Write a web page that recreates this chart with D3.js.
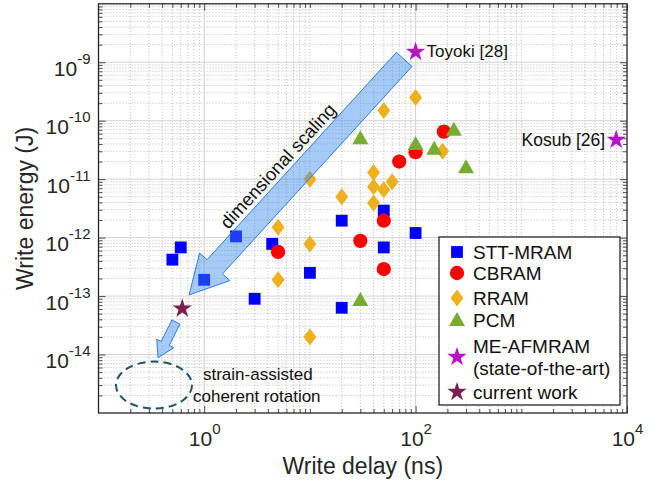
<!DOCTYPE html>
<html>
<head>
<meta charset="utf-8">
<script src="https://cdn.jsdelivr.net/npm/d3@7"></script>
<style>
  body { margin: 0; background: #fff; }
  svg text { font-family: "Liberation Sans", Arial, Helvetica, sans-serif; }
</style>
</head>
<body>
<div id="chart"></div>
<script>
// Data: [write delay (ns), write energy (J)]
const sttMram = [[0.5, 4.2e-13], [0.6, 6.8e-13], [1.0, 1.9e-13], [2.0, 1.05e-12], [4.4, 7.8e-13],
  [3.0, 9e-14], [10, 2.5e-13], [20, 1.95e-12], [20, 6.3e-14], [50, 2.9e-12], [50, 6.8e-13], [100, 1.2e-12]];
const cbram = [[5, 5.7e-13], [30, 8.8e-13], [50, 1.95e-12], [50, 2.9e-13], [70, 2e-11], [100, 2.9e-11], [185, 6.5e-11]];
const rram = [[5, 1.5e-12], [5, 1.9e-13], [10, 1e-11], [10, 7.8e-13], [10, 2e-14], [20, 5e-12],
  [40, 1.3e-11], [40, 7.4e-12], [40, 3.9e-12], [50, 6.6e-12], [60, 9e-12], [50, 1.5e-10], [100, 2.5e-10], [180, 3e-11]];
const pcm = [[30, 5e-11], [30, 8.6e-14], [100, 4e-11], [150, 3.3e-11], [230, 7e-11], [300, 1.6e-11]];
const meAfmram = [[100, 1.5e-9], [7900, 4.7e-11]];
const meLabels = ["Toyoki [28]", "Kosub [26]"];
const currentWork = [[0.62, 6.1e-14]];

const legendNames = ["STT-MRAM", "CBRAM", "RRAM", "PCM", "ME-AFMRAM", "current work"];

// axis ticks
const xMajor = [1, 100, 10000];
const yMajor = [1e-14, 1e-13, 1e-12, 1e-11, 1e-10, 1e-9];
const xDomain = [0.1, 1e4];
const yDomain = [1e-15, 1e-8];

// annotation anchors (data space)
const bigArrow = [[78, 1.12e-9], [0.72, 1.05e-13]];
const smallArrow = [[0.54, 3.6e-14], [0.366, 8.8e-15]];
const ellipseCenter = [0.335, 3e-15];

const width = 668, height = 485;
const plot = { left: 98.5, right: 627, top: 3.8, bottom: 413 };

const svg = d3.select("#chart").append("svg")
    .attr("width", width)
    .attr("height", height);

const x = d3.scaleLog().domain(xDomain).range([plot.left, plot.right]);
const y = d3.scaleLog().domain(yDomain).range([plot.bottom, plot.top]);

// minor values
function minors(lo, hi, majors) {
    const out = [];
    for (let e = lo; e < hi; e++) {
        for (let m = 1; m < 10; m++) {
            const v = m * Math.pow(10, e);
            if (e === lo && m === 1) continue;
            if (majors.some(d => Math.abs(d - v) / v < 1e-6)) continue;
            out.push(v);
        }
    }
    return out;
}
const xMinor = minors(-1, 4, xMajor);
const yMinor = minors(-15, -8, yMajor);

// Grid
const grid = svg.append("g");
grid.selectAll(".xminor").data(xMinor).enter().append("line")
    .attr("x1", d => x(d)).attr("x2", d => x(d))
    .attr("y1", plot.top).attr("y2", plot.bottom)
    .attr("stroke", "#a9a9a9").attr("stroke-width", 0.8).attr("stroke-dasharray", "1,2");
grid.selectAll(".yminor").data(yMinor).enter().append("line")
    .attr("y1", d => y(d)).attr("y2", d => y(d))
    .attr("x1", plot.left).attr("x2", plot.right)
    .attr("stroke", "#a9a9a9").attr("stroke-width", 0.8).attr("stroke-dasharray", "1,2");
grid.selectAll(".xmajor").data(xMajor.slice(0, 2)).enter().append("line")
    .attr("x1", d => x(d)).attr("x2", d => x(d))
    .attr("y1", plot.top).attr("y2", plot.bottom)
    .attr("stroke", "#d3d3d3").attr("stroke-width", 1);
grid.selectAll(".ymajor").data(yMajor).enter().append("line")
    .attr("y1", d => y(d)).attr("y2", d => y(d))
    .attr("x1", plot.left).attr("x2", plot.right)
    .attr("stroke", "#d3d3d3").attr("stroke-width", 1);

// Axes (ticks inward, on all four sides)
function tickAxis(axis, transform, values, size) {
    const g = svg.append("g").attr("transform", transform)
        .call(axis.tickValues(values).tickSize(size).tickFormat(""));
    g.select(".domain").remove();
    g.selectAll(".tick line").attr("stroke", "#262626").attr("stroke-width", 0.8);
    return g;
}
tickAxis(d3.axisBottom(x), `translate(0,${plot.bottom})`, xMinor, -4);
tickAxis(d3.axisTop(x), `translate(0,${plot.top})`, xMinor, -4);
tickAxis(d3.axisLeft(y), `translate(${plot.left},0)`, yMinor, -4);
tickAxis(d3.axisRight(y), `translate(${plot.right},0)`, yMinor, -4);
const xAxis = tickAxis(d3.axisBottom(x), `translate(0,${plot.bottom})`, xMajor, -7);
tickAxis(d3.axisTop(x), `translate(0,${plot.top})`, xMajor, -7);
const yAxis = tickAxis(d3.axisLeft(y), `translate(${plot.left},0)`, yMajor, -7);
tickAxis(d3.axisRight(y), `translate(${plot.right},0)`, yMajor, -7);

// power-of-ten labels
xAxis.selectAll(".tick text").each(function(d) {
    const t = d3.select(this).attr("y", 33).attr("dy", null)
        .attr("fill", "#262626").attr("font-size", 21).attr("text-anchor", "middle");
    t.append("tspan").text("10");
    t.append("tspan").attr("dy", -12).attr("font-size", 15).text(Math.round(Math.log10(d)));
});
yAxis.selectAll(".tick text").each(function(d) {
    const t = d3.select(this).attr("x", -8).attr("dy", 13)
        .attr("fill", "#262626").attr("font-size", 21).attr("text-anchor", "end");
    t.append("tspan").text("10");
    t.append("tspan").attr("dy", -12).attr("font-size", 15).text("-" + Math.abs(Math.round(Math.log10(d))));
});

svg.append("rect")
    .attr("x", plot.left).attr("y", plot.top)
    .attr("width", plot.right - plot.left).attr("height", plot.bottom - plot.top)
    .attr("fill", "none").attr("stroke", "#262626").attr("stroke-width", 1.3);

// Axis labels
svg.append("text")
    .attr("x", (plot.left + plot.right) / 2).attr("y", 474)
    .attr("text-anchor", "middle").attr("font-size", 23).attr("fill", "#262626")
    .text("Write delay (ns)");
svg.append("text")
    .attr("transform", `translate(33,${(plot.top + plot.bottom) / 2}) rotate(-90)`)
    .attr("text-anchor", "middle").attr("font-size", 23).attr("fill", "#262626")
    .text("Write energy (J)");

// Marker shapes
const sq = d3.symbol().type(d3.symbolSquare).size(140)();
const circ = d3.symbol().type(d3.symbolCircle).size(160)();
const diam = "M0,-8.5L6.5,0L0,8.5L-6.5,0Z";
const tri = "M0,-8L8,6L-8,6Z";
const star = d3.symbol().type(d3.symbolStar).size(115)();

const series = [
    { data: sttMram, path: sq, color: "#0000ff" },
    { data: cbram, path: circ, color: "#ff0000" },
    { data: rram, path: diam, color: "#edb120" },
    { data: pcm, path: tri, color: "#77ac30" },
    { data: meAfmram, path: star, color: "#bb11c6" },
    { data: currentWork, path: star, color: "#7a1f4e" }
];

series.forEach(s => {
    svg.append("g").selectAll("path").data(s.data).enter().append("path")
        .attr("d", s.path)
        .attr("transform", d => `translate(${x(d[0])},${y(d[1])})`)
        .attr("fill", s.color);
});

// Labels for state-of-the-art points
svg.append("text")
    .attr("x", x(meAfmram[0][0]) + 11).attr("y", y(meAfmram[0][1]) + 5)
    .attr("font-size", 17).attr("fill", "#111").text(meLabels[0]);
svg.append("text")
    .attr("x", x(meAfmram[1][0]) - 11).attr("y", y(meAfmram[1][1]) + 6)
    .attr("text-anchor", "end").attr("font-size", 17.5).attr("fill", "#111").text(meLabels[1]);

// Arrows
function arrowPath(p0, p1, shaftW, headW, headL) {
    const dx = p1[0] - p0[0], dy = p1[1] - p0[1];
    const len = Math.hypot(dx, dy);
    const ux = dx / len, uy = dy / len;
    const nx = -uy, ny = ux;
    const bx = p1[0] - ux * headL, by = p1[1] - uy * headL;
    const pts = [
        [p0[0] + nx * shaftW / 2, p0[1] + ny * shaftW / 2],
        [bx + nx * shaftW / 2, by + ny * shaftW / 2],
        [bx + nx * headW / 2, by + ny * headW / 2],
        p1,
        [bx - nx * headW / 2, by - ny * headW / 2],
        [bx - nx * shaftW / 2, by - ny * shaftW / 2],
        [p0[0] - nx * shaftW / 2, p0[1] - ny * shaftW / 2]
    ];
    return "M" + pts.map(p => p.join(",")).join("L") + "Z";
}
const toPx = d => [x(d[0]), y(d[1])];
const a0 = toPx(bigArrow[0]), a1 = toPx(bigArrow[1]);
svg.append("path")
    .attr("d", arrowPath(a0, a1, 21, 41, 38))
    .attr("fill", "rgb(60,140,240)").attr("fill-opacity", 0.45)
    .attr("stroke", "#2b7de9").attr("stroke-width", 1);
const s0 = toPx(smallArrow[0]), s1 = toPx(smallArrow[1]);
svg.append("path")
    .attr("d", arrowPath(s0, s1, 9, 19, 16))
    .attr("fill", "rgb(60,140,240)").attr("fill-opacity", 0.45)
    .attr("stroke", "#2b7de9").attr("stroke-width", 1);

// "dimensional scaling" along the big arrow
const ang = Math.atan2(a0[1] - a1[1], a0[0] - a1[0]) * 180 / Math.PI;
const len = Math.hypot(a0[0] - a1[0], a0[1] - a1[1]);
const ux = (a0[0] - a1[0]) / len, uy = (a0[1] - a1[1]) / len;
const tx = a1[0] + ux * 155 + uy * 15, ty = a1[1] + uy * 155 - ux * 15;
svg.append("text")
    .attr("transform", `translate(${tx},${ty}) rotate(${ang})`)
    .attr("text-anchor", "middle").attr("font-size", 18.5).attr("fill", "#111")
    .text("dimensional scaling");

// dashed ellipse + text
const ec = toPx(ellipseCenter);
svg.append("ellipse")
    .attr("cx", ec[0]).attr("cy", ec[1]).attr("rx", 38).attr("ry", 23.5)
    .attr("fill", "none").attr("stroke", "#1d5763").attr("stroke-width", 2)
    .attr("stroke-dasharray", "8,5");
svg.append("text").attr("x", ec[0] + 49).attr("y", ec[1] - 5)
    .attr("font-size", 17).attr("fill", "#111").text("strain-assisted");
svg.append("text").attr("x", ec[0] + 39).attr("y", ec[1] + 17)
    .attr("font-size", 17).attr("fill", "#111").text("coherent rotation");

// Legend
const legend = svg.append("g").attr("transform", "translate(439,237)");
legend.append("rect").attr("width", 181).attr("height", 168)
    .attr("fill", "#fff").attr("stroke", "#262626").attr("stroke-width", 1.3);
const legendRows = [15, 36, 61, 83, 120, 155];
series.forEach((s, i) => {
    legend.append("path").attr("d", s.path)
        .attr("transform", `translate(18,${legendRows[i]})`).attr("fill", s.color);
    const t = legend.append("text").attr("x", 34).attr("font-size", 19).attr("fill", "#111");
    if (i === 4) {
        t.attr("y", legendRows[i] - 4).text(legendNames[i]);
        legend.append("text").attr("x", 34).attr("y", legendRows[i] + 18)
            .attr("font-size", 19).attr("fill", "#111").text("(state-of-the-art)");
    } else {
        t.attr("y", legendRows[i] + 7).text(legendNames[i]);
    }
});
</script>
</body>
</html>
